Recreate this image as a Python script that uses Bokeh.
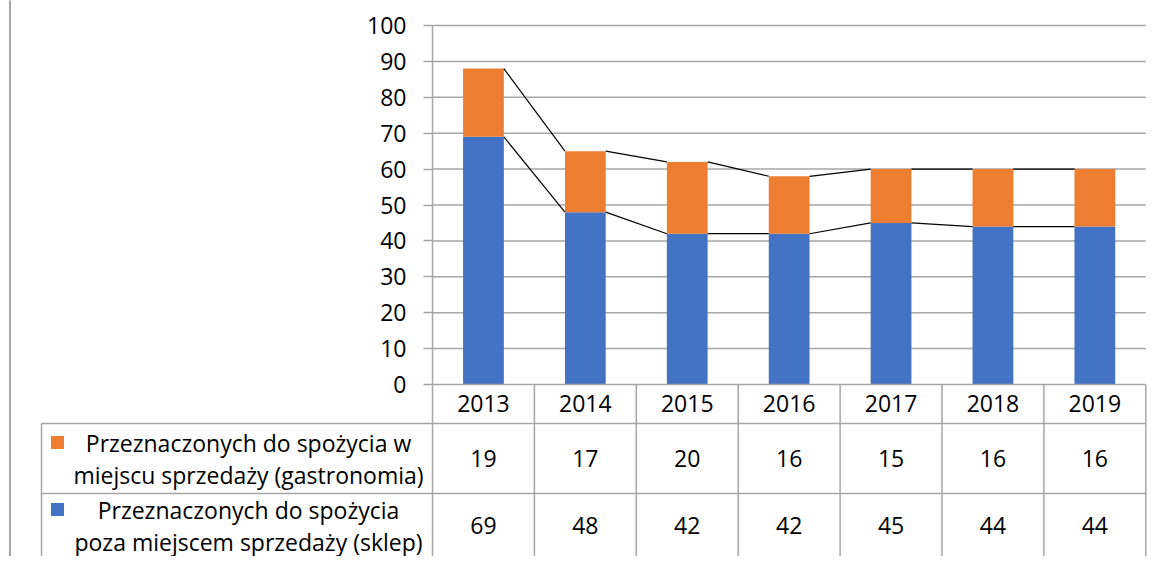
from bokeh.plotting import figure
from bokeh.models import LinearAxis, FixedTicker, Range1d
from bokeh.core.properties import value
from bokeh.embed import file_html
from bokeh.resources import INLINE

# ---------------- data ----------------
years = ["2013", "2014", "2015", "2016", "2017", "2018", "2019"]
gastronomia = [19, 17, 20, 16, 15, 16, 16]
sklep = [69, 48, 42, 42, 45, 44, 44]
series_names = [
    "Przeznaczonych do spożycia w\nmiejscu sprzedaży (gastronomia)",
    "Przeznaczonych do spożycia\npoza miejscem sprzedaży (sklep)",
]
y_ticks = [0, 10, 20, 30, 40, 50, 60, 70, 80, 90, 100]

BLUE = "#4472C4"
ORANGE = "#ED7D31"
GRID = "#a6a6a6"
FONT = "Open Sans"

# ---------------- layout (pixels) ----------------
W, H = 1154, 556
AX_X = 432.0        # x of value axis
CAT_W = 101.9       # px per category
ZERO_Y = 384.0      # y of value 0
PPU = 3.59          # px per value unit
HEAD_B, ROW1_B = 423.0, 493.0      # table row boundaries
ROW_C = [458.0, 525.0]             # table row centres
LINE_GAP = 32.0                    # legend text line spacing


def dx(px):
    return (px - AX_X) / CAT_W


def dy(py):
    return (ZERO_Y - py) / PPU


p = figure(width=W, height=H, output_backend="svg", toolbar_location=None,
           x_range=Range1d(dx(0), dx(W)), y_range=Range1d(dy(H), dy(0)),
           x_axis_type=None, y_axis_type=None, min_border=0,
           outline_line_color=None, background_fill_color="white",
           border_fill_color="white")
p.xgrid.visible = False
p.ygrid.visible = False

n = len(years)
centers = [i + 0.5 for i in range(n)]
totals = [a + b for a, b in zip(sklep, gastronomia)]

# gridlines
gl = y_ticks[1:]
p.segment(x0=[0] * len(gl), x1=[n] * len(gl), y0=gl, y1=gl,
          line_color=GRID, line_width=1.5)

# bars
BW = 0.4
p.vbar(x=centers, bottom=0, top=sklep, width=BW, fill_color=BLUE, line_color=None)
p.vbar(x=centers, bottom=sklep, top=totals, width=BW, fill_color=ORANGE, line_color=None)

# series lines
for vals in (sklep, totals):
    p.segment(x0=[c + BW / 2 for c in centers[:-1]], x1=[c - BW / 2 for c in centers[1:]],
              y0=vals[:-1], y1=vals[1:], line_color="black", line_width=1.2)

# data table lines
bottom = dy(H + 20)
p.segment(x0=list(range(n + 1)), x1=list(range(n + 1)), y0=[0] * (n + 1), y1=[bottom] * (n + 1),
          line_color=GRID, line_width=1.5)
p.segment(x0=[dx(41)] * 2, x1=[n] * 2, y0=[dy(HEAD_B), dy(ROW1_B)], y1=[dy(HEAD_B), dy(ROW1_B)],
          line_color=GRID, line_width=1.5)
p.segment(x0=[dx(41)], x1=[dx(41)], y0=[dy(HEAD_B)], y1=[bottom], line_color=GRID, line_width=1.5)
# outer left border of chart area
p.segment(x0=[dx(9.5)], x1=[dx(9.5)], y0=[dy(-20)], y1=[bottom], line_color=GRID, line_width=2)

# legend keys + names in table
first_lines = [s.split("\n")[0] for s in series_names]
second_lines = [s.split("\n")[1] for s in series_names]
line1_y = [dy(c - LINE_GAP / 2) for c in ROW_C]
line2_y = [dy(c + LINE_GAP / 2) for c in ROW_C]
p.scatter(x=[dx(57)] * 2, y=line1_y, marker="square", size=13,
          fill_color=[ORANGE, BLUE], line_color=None)
for txt, yy in ((first_lines, line1_y), (second_lines, line2_y)):
    p.text(x=[dx(248)] * 2, y=yy, text=txt, text_align="center",
           text_baseline="middle", text_font=value(FONT), text_font_size="23px",
           text_color="black")

# values in table
for vals, c in zip((gastronomia, sklep), ROW_C):
    p.text(x=centers, y=[dy(c)] * n, text=[str(v) for v in vals], text_align="center",
           text_baseline="middle", text_font=value(FONT), text_font_size="23px",
           text_color="black")

# value axis
yaxis = LinearAxis(fixed_location=0, bounds=(0, 100), ticker=FixedTicker(ticks=y_ticks))
yaxis.major_tick_in = 0
yaxis.major_tick_out = 9
yaxis.minor_tick_line_color = None
yaxis.axis_line_color = GRID
yaxis.axis_line_width = 1.5
yaxis.major_tick_line_color = GRID
yaxis.major_tick_line_width = 1.5
yaxis.major_label_standoff = 17
yaxis.major_label_text_font = FONT
yaxis.major_label_text_font_size = "23px"
yaxis.major_label_text_color = "black"
p.add_layout(yaxis, "left")

# category axis (table header)
xaxis = LinearAxis(fixed_location=0, bounds=(0, n), ticker=FixedTicker(ticks=centers),
                   major_label_overrides={c: y for c, y in zip(centers, years)})
xaxis.major_tick_in = 0
xaxis.major_tick_out = 0
xaxis.minor_tick_line_color = None
xaxis.axis_line_color = GRID
xaxis.axis_line_width = 1.5
xaxis.major_label_standoff = 10
xaxis.major_label_text_font = FONT
xaxis.major_label_text_font_size = "23px"
xaxis.major_label_text_color = "black"
p.add_layout(xaxis, "below")

open("out.html", "w").write(file_html(p, INLINE))
